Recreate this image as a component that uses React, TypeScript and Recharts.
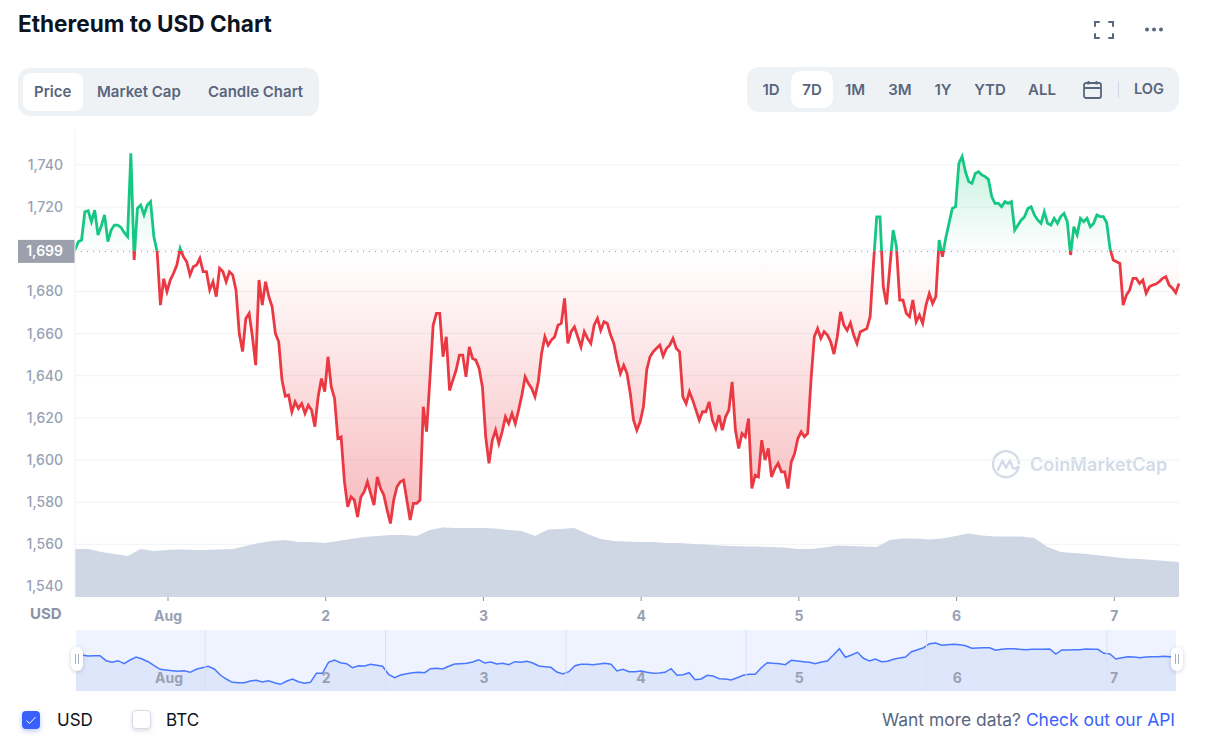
import {
  Area,
  AreaChart,
  CartesianGrid,
  ComposedChart,
  ReferenceLine,
  XAxis,
  YAxis,
} from "recharts";

const CHART_TABS = ["Price", "Market Cap", "Candle Chart"];
const RANGE_TABS = [
  { label: "1D", center: 771 },
  { label: "7D", center: 812 },
  { label: "1M", center: 855 },
  { label: "3M", center: 900 },
  { label: "1Y", center: 943 },
  { label: "YTD", center: 990 },
  { label: "ALL", center: 1042 },
];

const PRICE_TICKS = [1540, 1560, 1580, 1600, 1620, 1640, 1660, 1680, 1700, 1720, 1740];
const DAY_TICKS = [1, 2, 3, 4, 5, 6, 7];
const CURRENT_PRICE = 1699;

// x axis is "day of August", the window opens on Jul 31 around 09:50
const WINDOW_START = 0.4103;
const WINDOW_END = 7.4103;

// one reading every 30 minutes
const PRICES = [
  1699.7, 1703.6, 1704.4, 1717.8, 1718.3, 1713.1, 1718.6, 1706.8, 1711, 1716.3, 1703.6, 1709.1,
  1711.5, 1711.5, 1710.4, 1707.9, 1706, 1745.5, 1694.9, 1719.4, 1721, 1716.3, 1721, 1722.6,
  1706, 1698.9, 1673.5, 1686, 1679.9, 1685.4, 1688.6, 1692.5, 1700.4, 1696.5, 1694.1, 1687.8,
  1691.7, 1692.5, 1695.7, 1689.4, 1689.4, 1680.7, 1684.6, 1677.5, 1691, 1689.4, 1684.6, 1689.3,
  1687.8, 1680.6, 1660, 1651.5, 1667.2, 1669.6, 1658.5, 1645, 1685.4, 1673.5, 1684.6, 1677.5,
  1672.7, 1660, 1656.1, 1637.9, 1630.3, 1630.8, 1622.9, 1627.6, 1624.5, 1626.8, 1622.1, 1626,
  1623.7, 1615.8, 1630, 1638.7, 1632.4, 1649, 1634.7, 1629.2, 1610.2, 1611, 1589.7, 1577.8,
  1582.5, 1581, 1573, 1582.5, 1584.9, 1589.7, 1584.1, 1578.6, 1592, 1586.5, 1583.3, 1576.2,
  1569.9, 1581, 1587.3, 1589.7, 1590.5, 1581, 1571.5, 1579.4, 1579.4, 1581, 1625.3, 1613.5,
  1637.9, 1664, 1669.6, 1669.6, 1649, 1658.5, 1633, 1637.9, 1642.7, 1649.8, 1649.8, 1639.5,
  1653.7, 1648.2, 1647.4, 1643.4, 1634.7, 1611, 1598.4, 1609.4, 1614.2, 1607.8, 1613.4, 1620.5,
  1617.3, 1622.1, 1617.3, 1623.7, 1630.8, 1639.5, 1636.3, 1634, 1630, 1637.1, 1650.6, 1658.5,
  1654.5, 1656.9, 1658.5, 1664, 1664.8, 1676.7, 1655.3, 1660.9, 1663.2, 1658.5, 1653.7, 1660.9,
  1657.7, 1655.3, 1664, 1667.2, 1661.6, 1665.6, 1664.8, 1659.3, 1655.3, 1647.4, 1641.1, 1645,
  1641.1, 1631.6, 1618.9, 1614.2, 1618.1, 1625.3, 1642.7, 1649, 1651.4, 1653, 1654.5, 1649.3,
  1652.9, 1654.5, 1657.7, 1652.9, 1651.4, 1630, 1626.8, 1632.4, 1628.4, 1623.7, 1618.9, 1622.9,
  1622.9, 1627.6, 1618.9, 1615, 1621.3, 1614.2, 1620.5, 1623.7, 1637.1, 1614.2, 1605.5, 1612.6,
  1611, 1619.7, 1586.5, 1592.8, 1592, 1609.4, 1600, 1605.5, 1592, 1596, 1598.4, 1594.4,
  1594.4, 1586.5, 1599.1, 1603, 1610.2, 1613.4, 1611, 1612.6, 1637.9, 1658.5, 1662.4, 1657.7,
  1660.9, 1659.3, 1656.1, 1650.3, 1658.5, 1670.3, 1664, 1661.6, 1665.1, 1659.3, 1655.3, 1660.9,
  1661.6, 1662.4, 1668, 1693, 1715.4, 1715.4, 1682.2, 1673.8, 1691.7, 1709.1, 1701.2, 1675.9,
  1675.9, 1669.6, 1668, 1675.9, 1665.6, 1668.8, 1664.8, 1673.5, 1679, 1674.3, 1677.5, 1704.4,
  1696.5, 1705.2, 1712.3, 1719.4, 1720.2, 1740.8, 1744, 1736.8, 1732.1, 1731.3, 1736, 1736.8,
  1735.3, 1734.5, 1733.2, 1725, 1721.8, 1721.8, 1720.2, 1722.6, 1721.8, 1722.6, 1709.1, 1711.5,
  1713.9, 1715.5, 1719.4, 1720.2, 1716.3, 1713.9, 1712.3, 1717.8, 1712.3, 1711.5, 1714.7, 1712.3,
  1715.5, 1717, 1713.1, 1697.3, 1710.7, 1706.8, 1714.7, 1713.1, 1714.7, 1710.7, 1712.3, 1716.3,
  1715.5, 1715.5, 1712.6, 1700.4, 1694.9, 1694.1, 1693.3, 1673.5, 1678.3, 1680.7, 1686.2, 1686.2,
  1683.8, 1685.4, 1679.1, 1682.2, 1683, 1683.5, 1684.6, 1686.2, 1687, 1683, 1681.5, 1679.4,
  1683.8,
];

// 24h volume in $bn, one reading every 2 hours
const VOLUMES = [
  9.6, 9.6, 9, 8.6, 8.2, 9.6, 9.2, 9.4, 9.5, 9.4, 9.4, 9.5, 9.6, 10.2, 10.8, 11.2, 11.4, 11, 11,
  10.8, 11.2, 11.6, 12, 12.2, 12.4, 12.4, 12.2, 13.4, 13.9, 13.8, 13.8, 13.8, 13.7, 13.4, 13.2,
  12.2, 13.5, 13.6, 13.8, 12.6, 11.6, 11.2, 11.1, 11, 11, 10.8, 10.8, 10.6, 10.5, 10.3, 10.2,
  10.1, 10.1, 10, 9.9, 9.6, 9.6, 9.9, 10.3, 10.2, 10.1, 10, 11.4, 11.7, 11.7, 11.5, 11.7, 12.2,
  12.7, 12.3, 12.1, 12.1, 12.1, 11.8, 10, 9, 8.8, 8.6, 8.3, 8, 7.7, 7.6, 7.4, 7.2, 7,
];

// overview strip under the chart, relative level
const OVERVIEW = [
  36, 36, 35, 35.3, 35.3, 30.3, 28.7, 30.3, 27.3, 31, 34, 32, 29.3, 25.3, 21.7, 21, 20.3, 19.7,
  20.3, 18.7, 21.7, 23.3, 24.7, 22, 16, 12, 8.7, 8.3, 8.3, 10, 10.7, 9, 10.3, 8.3, 6.7, 9.7, 12,
  9.3, 7.7, 8.7, 17.7, 17.7, 28.7, 31, 28.3, 27.3, 23.3, 25.3, 25, 26.7, 25.7, 24.7, 16.7, 13.3,
  16, 17.3, 18.3, 18.7, 18.3, 22.3, 22.7, 22, 24.7, 27, 27.3, 27.7, 29, 31.3, 28, 29, 27, 27.7,
  26.3, 29.3, 28.7, 29.7, 28, 25, 24.3, 23.7, 19, 17, 19.3, 25.3, 26.7, 26.7, 26.3, 27, 27.7,
  26.7, 20, 21.7, 19.3, 19.3, 20, 18.7, 17.7, 18, 18.7, 22.3, 15.7, 16.3, 18.3, 11.3, 12, 15.7,
  15, 12.3, 12, 11, 13.3, 15.7, 16.7, 16.7, 23.3, 28.3, 27.7, 27.3, 26.3, 30.7, 30, 29.3, 28.7,
  27.3, 29, 30, 36, 42.3, 33.7, 36, 38.7, 32.7, 30, 32, 29.3, 29.7, 31.7, 33, 34, 39.3, 41.3,
  43.3, 47.3, 48, 45.7, 46.3, 46.7, 46.3, 45.3, 42.7, 43, 43.3, 43.3, 40.7, 41.7, 42.3, 42.3,
  41.7, 41.3, 41.7, 41.7, 41.7, 42, 37, 41, 41, 41.3, 41.3, 42, 41.7, 41.7, 37.7, 37, 32, 33.3,
  34.3, 34, 33.3, 34, 34.3, 34.3, 34.7, 34.3, 33.7,
];
const OVERVIEW_DIVIDERS = [21.5, 51.5, 81.5, 111.5, 141.5, 171.5];
const OVERVIEW_TICKS = [15.47, 41.6, 67.9, 94, 120.3, 146.6, 172.7];
const OVERVIEW_TICK_LABELS = ["Aug", "2", "3", "4", "5", "6", "7"];

const priceTable = PRICES.map((price, i) => ({
  t: WINDOW_START + i / 48,
  price,
  volume: i % 4 === 0 ? VOLUMES[i / 4] : null,
}));
const overviewTable = OVERVIEW.map((level, i) => ({ i, level }));

const GREEN = "#16c784";
const RED = "#ea3943";
const SLATE = "#58667e";
const AXIS_TEXT = "#98a1b3";
const BLUE = "#3861fb";
const GRID = "#eff2f5";

const PLOT_TOP = 130;
const PLOT_BOTTOM = 597;
const BASE_Y = 251.4;
const SPLIT = (BASE_Y - PLOT_TOP) / (PLOT_BOTTOM - PLOT_TOP);

const formatPrice = (v: number) => v.toLocaleString("en-US");
// 1,700 sits right behind the current price flag
const formatPriceTick = (v: number) => (v === 1700 ? "" : formatPrice(v));
const formatDay = (v: number) => (v === 1 ? "Aug" : String(v));
const formatOverviewTick = (v: number) => OVERVIEW_TICK_LABELS[OVERVIEW_TICKS.indexOf(v)] ?? "";

function CurrentPriceLabel({ viewBox }: any) {
  const y = viewBox?.y ?? BASE_Y;
  return (
    <g>
      <rect x={18} y={y - 11.5} width={57} height={23} fill="#9ba0ac" />
      <text x={63} y={y + 5} textAnchor="end" fill="#fff" fontSize={14} fontWeight={600}>
        {formatPrice(CURRENT_PRICE)}
      </text>
    </g>
  );
}

function Handle({ left }: { left: number }) {
  return (
    <div
      style={{
        position: "absolute",
        left,
        top: 647,
        width: 12,
        height: 24,
        background: "#fff",
        borderRadius: 6,
        boxShadow: "0 1px 4px rgba(88,102,126,0.3)",
      }}
    >
      <div style={{ position: "absolute", left: 3.5, top: 7, width: 1, height: 10, background: "#a6b0c3" }} />
      <div style={{ position: "absolute", left: 7, top: 7, width: 1, height: 10, background: "#a6b0c3" }} />
    </div>
  );
}

function Watermark() {
  return (
    <div style={{ position: "absolute", left: 991, top: 450, width: 180, height: 32 }}>
      <svg width={30} height={30} viewBox="0 0 30 30" style={{ position: "absolute", left: 0, top: 0 }}>
        <path
          d="M27.6 17.5 A13 13 0 1 1 28 13.5"
          fill="none"
          stroke="#d3dbe8"
          strokeWidth={2.4}
          strokeLinecap="round"
        />
        <path
          d="M7 20 L11.5 10.5 L15 18 L19 10 L21.5 17.5 Q23 20 27 17"
          fill="none"
          stroke="#d3dbe8"
          strokeWidth={2.4}
          strokeLinecap="round"
          strokeLinejoin="round"
        />
      </svg>
      <div
        style={{
          position: "absolute",
          left: 39,
          top: 4,
          fontSize: 18,
          fontWeight: 600,
          color: "#d3dbe8",
          letterSpacing: 0.1,
          whiteSpace: "nowrap",
        }}
      >
        CoinMarketCap
      </div>
    </div>
  );
}

export default function App() {
  return (
    <div
      style={{
        position: "absolute",
        left: 0,
        top: 0,
        width: 1207,
        height: 751,
        overflow: "hidden",
        background: "#fff",
        fontFamily: "Inter, sans-serif",
      }}
    >
      <div
        style={{
          position: "absolute",
          left: 18,
          top: 9.5,
          fontSize: 22.6,
          fontWeight: 700,
          color: "#0d1421",
          whiteSpace: "nowrap",
        }}
      >
        Ethereum to USD Chart
      </div>

      {/* fullscreen + more */}
      <svg width={100} height={30} style={{ position: "absolute", left: 1085, top: 15 }}>
        <path
          d="M10 11 V7 H14 M24 7 H28 V11 M28 19 V23 H24 M14 23 H10 V19"
          fill="none"
          stroke={SLATE}
          strokeWidth={2}
          strokeLinecap="round"
        />
        <circle cx={62} cy={14.5} r={2} fill={SLATE} />
        <circle cx={69} cy={14.5} r={2} fill={SLATE} />
        <circle cx={76} cy={14.5} r={2} fill={SLATE} />
      </svg>

      {/* chart type tabs */}
      <div style={{ position: "absolute", left: 18, top: 68, width: 301, height: 48, background: GRID, borderRadius: 12 }} />
      <div style={{ position: "absolute", left: 23, top: 73, width: 60, height: 38, background: "#fff", borderRadius: 8 }} />
      {CHART_TABS.map((tab, i) => (
        <div
          key={tab}
          style={{
            position: "absolute",
            left: [34, 97, 208][i],
            top: 82,
            fontSize: 15,
            fontWeight: 600,
            color: SLATE,
            whiteSpace: "nowrap",
          }}
        >
          {tab}
        </div>
      ))}

      {/* range tabs */}
      <div style={{ position: "absolute", left: 747, top: 67, width: 432, height: 45, background: GRID, borderRadius: 12 }} />
      <div style={{ position: "absolute", left: 791, top: 71, width: 42, height: 37, background: "#fff", borderRadius: 10 }} />
      {RANGE_TABS.map((tab) => (
        <div
          key={tab.label}
          style={{
            position: "absolute",
            left: tab.center - 30,
            width: 60,
            top: 80,
            textAlign: "center",
            fontSize: 15,
            fontWeight: 600,
            color: SLATE,
          }}
        >
          {tab.label}
        </div>
      ))}
      <svg width={22} height={22} style={{ position: "absolute", left: 1082, top: 79 }}>
        <rect x={2} y={4} width={17} height={15} rx={2} fill="none" stroke={SLATE} strokeWidth={1.8} />
        <path d="M2 9 H19 M6.5 2 V5.5 M14.5 2 V5.5" fill="none" stroke={SLATE} strokeWidth={1.8} />
      </svg>
      <div style={{ position: "absolute", left: 1118, top: 81, width: 1, height: 17, background: "#cfd6e4" }} />
      <div style={{ position: "absolute", left: 1134, top: 79.5, fontSize: 14.6, fontWeight: 600, color: SLATE }}>LOG</div>

      <Watermark />

      <div style={{ position: "absolute", left: 0, top: 0 }}>
        <ComposedChart
          width={1207}
          height={630}
          data={priceTable}
          margin={{ top: PLOT_TOP, right: 28, bottom: 0, left: 0 }}
        >
          <defs>
            <linearGradient id="priceStroke" gradientUnits="userSpaceOnUse" x1={0} y1={PLOT_TOP} x2={0} y2={PLOT_BOTTOM}>
              <stop offset={SPLIT} stopColor={GREEN} />
              <stop offset={SPLIT} stopColor={RED} />
            </linearGradient>
            <linearGradient id="priceFill" gradientUnits="userSpaceOnUse" x1={0} y1={PLOT_TOP} x2={0} y2={PLOT_BOTTOM}>
              <stop offset={0} stopColor={GREEN} stopOpacity={0.32} />
              <stop offset={SPLIT} stopColor={GREEN} stopOpacity={0} />
              <stop offset={SPLIT} stopColor={RED} stopOpacity={0} />
              <stop offset={0.87} stopColor={RED} stopOpacity={0.36} />
            </linearGradient>
          </defs>
          <CartesianGrid stroke={GRID} vertical={false} horizontalValues={PRICE_TICKS} />
          <XAxis
            dataKey="t"
            type="number"
            domain={[WINDOW_START, WINDOW_END]}
            ticks={DAY_TICKS}
            tickFormatter={formatDay}
            height={33}
            axisLine={false}
            tickLine={{ stroke: "#8b93a5" }}
            tickSize={4}
            tickMargin={10}
            tick={{ fill: AXIS_TEXT, fontSize: 14, fontWeight: 700 }}
          />
          <YAxis
            domain={[1535, 1756.6]}
            ticks={PRICE_TICKS}
            tickFormatter={formatPriceTick}
            width={75}
            allowDataOverflow
            axisLine={{ stroke: GRID }}
            tickLine={false}
            tickSize={0}
            tickMargin={12}
            tick={{ fill: AXIS_TEXT, fontSize: 14, fontWeight: 500 }}
          />
          <YAxis yAxisId="vol" hide domain={[0, 93.4]} />
          <Area
            dataKey="price"
            type="linear"
            baseValue={CURRENT_PRICE}
            stroke="url(#priceStroke)"
            strokeWidth={2.8}
            fill="url(#priceFill)"
            fillOpacity={1}
            dot={false}
            activeDot={false}
            isAnimationActive={false}
          />
          <Area
            yAxisId="vol"
            dataKey="volume"
            type="linear"
            connectNulls
            stroke="none"
            fill="#cfd6e4"
            fillOpacity={1}
            dot={false}
            activeDot={false}
            isAnimationActive={false}
          />
          <ReferenceLine
            y={CURRENT_PRICE}
            stroke="#8b93a5"
            strokeDasharray="1 5"
            label={<CurrentPriceLabel />}
          />
        </ComposedChart>
      </div>

      <div style={{ position: "absolute", left: 30, top: 604, fontSize: 15, fontWeight: 700, color: "#8b93a5" }}>USD</div>

      {/* overview strip */}
      <div style={{ position: "absolute", left: 76, top: 630, height: 61, background: "#eef3ff" }}>
        <AreaChart width={1100} height={61} data={overviewTable} margin={{ top: 0, right: 0, bottom: 0, left: 0 }}>
          <XAxis
            dataKey="i"
            type="number"
            domain={[0, 183]}
            ticks={OVERVIEW_TICKS}
            tickFormatter={formatOverviewTick}
            height={1}
            mirror
            interval={0}
            axisLine={false}
            tickLine={false}
            tickSize={0}
            tickMargin={8}
            tick={{ fill: "#98a1b3", fontSize: 14, fontWeight: 700 }}
          />
          <YAxis hide domain={[0, 61]} />
          {OVERVIEW_DIVIDERS.map((x) => (
            <ReferenceLine key={x} x={x} stroke="#d9e1f5" />
          ))}
          <Area
            dataKey="level"
            type="linear"
            stroke="#4878ff"
            strokeWidth={1.5}
            fill="#dbe3fc"
            fillOpacity={0.85}
            dot={false}
            activeDot={false}
            isAnimationActive={false}
          />
        </AreaChart>
      </div>
      <Handle left={71} />
      <Handle left={1171} />

      {/* currency toggles */}
      <div
        style={{
          position: "absolute",
          left: 22,
          top: 711,
          width: 18,
          height: 18,
          borderRadius: 4,
          background: BLUE,
          boxShadow: "0 2px 5px rgba(56,97,251,0.35)",
        }}
      >
        <svg width={18} height={18}>
          <path d="M4.5 9.5 L7.5 12.5 L13.5 6" fill="none" stroke="#fff" strokeWidth={1} />
        </svg>
      </div>
      <div style={{ position: "absolute", left: 57, top: 710, fontSize: 17, color: "#0d1421" }}>USD</div>
      <div
        style={{
          position: "absolute",
          left: 132,
          top: 710,
          width: 17,
          height: 17,
          borderRadius: 4,
          background: "#fff",
          border: "1px solid #d5dbe6",
          boxShadow: "0 2px 4px rgba(88,102,126,0.2)",
        }}
      />
      <div style={{ position: "absolute", left: 166, top: 710, fontSize: 17, color: "#0d1421" }}>BTC</div>
      <div style={{ position: "absolute", right: 32, top: 709, fontSize: 17.45, color: SLATE, whiteSpace: "nowrap" }}>
        Want more data? <span style={{ color: BLUE }}>Check out our API</span>
      </div>
    </div>
  );
}
